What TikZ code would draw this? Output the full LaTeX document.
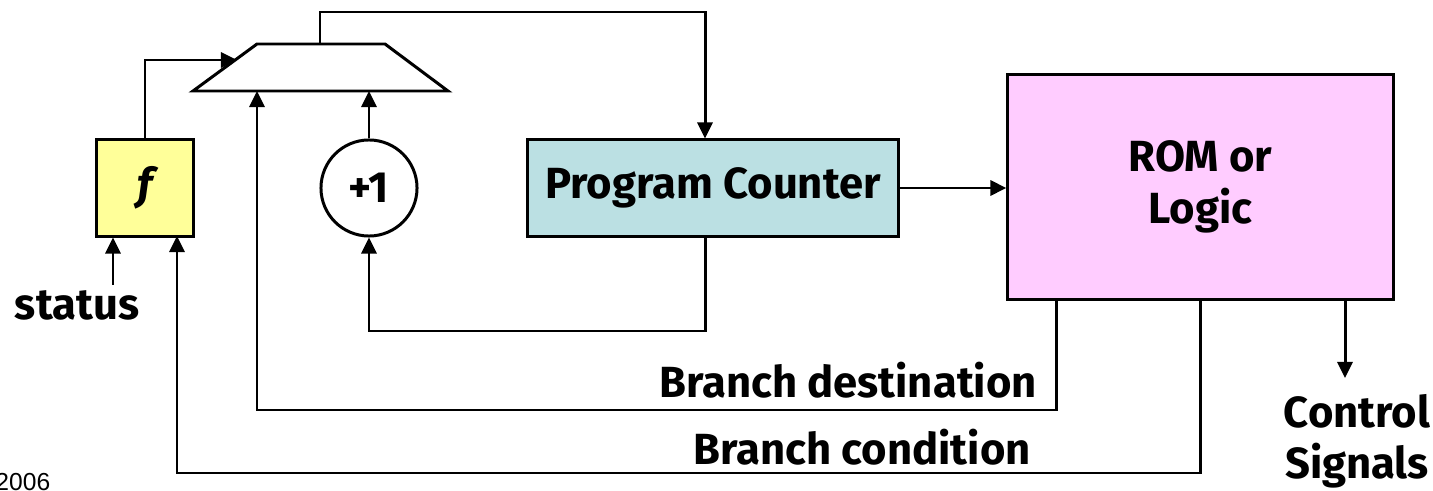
\documentclass[tikz,border=0pt]{standalone}
\usepackage{fontspec}
\setmainfont{Fira Sans}
\newfontfamily\yrfont{Liberation Sans}
\usepackage{tikz}
\usetikzlibrary{arrows.meta}

\definecolor{fyellow}{HTML}{FFFF99}
\definecolor{pccyan}{HTML}{BBE0E3}
\definecolor{rompink}{HTML}{FFCCFF}

\begin{document}
\begin{tikzpicture}[x=0.01cm,y=-0.01cm,line width=0.85pt,
  >={Triangle[length=0.16cm,width=0.15cm]},
  every node/.style={font=\fontsize{12.4}{14.6}\selectfont\bfseries},
  blk/.style={shape=rectangle,draw=black,inner sep=0pt}]
\useasboundingbox (0,0) rectangle (1433,491);

% blocks
\node[blk,fill=fyellow,minimum width=0.96cm,minimum height=0.96cm] (F) at (145,188) {\itshape f};
\node[shape=circle,draw=black,minimum size=0.96cm,inner sep=0pt] (inc) at (369,188) {+1};
\node[blk,fill=pccyan,minimum width=3.70cm,minimum height=0.96cm] (PC) at (713,188) {Program Counter};
\node[blk,fill=rompink,minimum width=3.85cm,minimum height=2.24cm,align=center] (ROM) at (1200.5,187) {ROM or\\Logic};

% mux
\draw[fill=white] (193,91) -- (257,44) -- (385,44) -- (448,91) -- cycle;
\coordinate (muxsel) at (237,60);
\coordinate (muxout) at (320,44);
\coordinate (muxa) at (257,91);
\coordinate (muxb) at (369,91);

% labels
\node (status) at (77,305) {status};
\node[align=center] (ctrl) at (1357,441) {Control\\Signals};
\node[anchor=east] (bdlab) at (1050,380) {Branch destination};
\node (bclab) at (862,447) {Branch condition};
\node[anchor=west,inner sep=0pt,font=\yrfont\fontsize{7}{8}\selectfont] (yr) at (-6,482) {2006};

% bends
\coordinate (top) at (705,12);
\coordinate (loop) at (705,331);
\coordinate (bd) at (1056,410);
\coordinate (bc) at (1200,473);
\coordinate (bcin) at (177,236);
\coordinate (st) at (113,285);
\coordinate (cs) at (1345,378);

% wires
\draw[->] (F.north) |- (muxsel);
\draw[->] (inc.north) -- (muxb);
\draw[->] (muxout) |- (top) -- (top |- PC.north);
\draw[->] (PC) -- (ROM.west |- PC);
\draw[->] (PC.south -| loop) -- (loop) -| (inc.south);
\draw[->] (ROM.south -| bd) -- (bd) -| (muxa);
\draw[->] (ROM.south -| bc) -- (bc) -| (bcin);
\draw[->] (st) -- (st |- F.south);
\draw[->] (ROM.south -| cs) -- (cs);
\end{tikzpicture}
\end{document}
